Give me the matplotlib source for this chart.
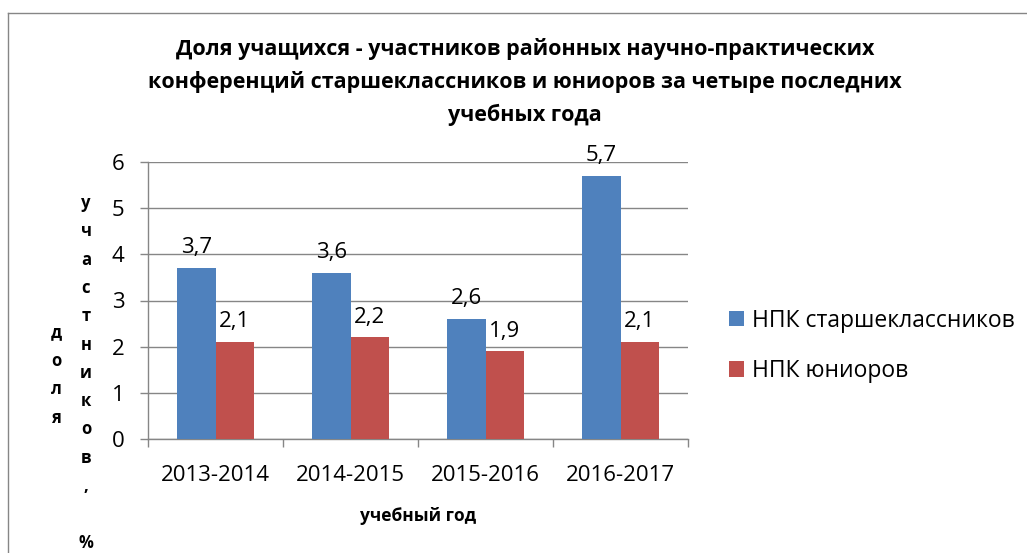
import matplotlib.pyplot as plt
import numpy as np
from matplotlib.lines import Line2D

years = ['2013-2014', '2014-2015', '2015-2016', '2016-2017']
seniors = [3.7, 3.6, 2.6, 5.7]
juniors = [2.1, 2.2, 1.9, 2.1]
series_names = ['НПК старшеклассников', 'НПК юниоров']
title = ('Доля учащихся - участников районных научно-практических\n'
         'конференций старшеклассников и юниоров за четыре последних\n'
         'учебных года')
xlabel = 'учебный год'
ylabel_1 = 'доля'
ylabel_2 = 'участников, %'

BLUE = '#4F81BD'
RED = '#C0504D'
GRAY = '#868686'

plt.rcParams['font.family'] = ['Open Sans', 'DejaVu Sans']

W, H = 1027, 553
fig = plt.figure(figsize=(W / 100, H / 100), dpi=100)
ax = fig.add_axes([148 / W, 1 - 439 / H, 540 / W, 277 / H])

# outer chart frame: only left and top edges are inside the picture
top = 1 - 12.5 / H
left = 7.5 / W
fig.add_artist(Line2D([left, left], [0, top], transform=fig.transFigure,
                      color=GRAY, linewidth=1.0))
fig.add_artist(Line2D([left, 1], [top, top], transform=fig.transFigure,
                      color=GRAY, linewidth=1.0))

x = np.arange(len(years))
bw = 0.282
b1 = ax.bar(x - bw / 2, seniors, bw, color=BLUE, label=series_names[0], zorder=3)
b2 = ax.bar(x + bw / 2, juniors, bw, color=RED, label=series_names[1], zorder=3)

fmt = lambda vals: [f'{v:.1f}'.replace('.', ',') for v in vals]
ax.bar_label(b1, labels=fmt(seniors), padding=7, fontsize=16)
ax.bar_label(b2, labels=fmt(juniors), padding=7, fontsize=16)

ax.set_xlim(-0.5, len(years) - 0.5)
ax.set_ylim(0, 6)
ax.set_yticks(range(0, 7))
ax.set_xticks(x)
ax.set_xticklabels(years, fontsize=16)
ax.set_xticks(np.arange(-0.5, len(years)), minor=True)
ax.tick_params(axis='x', which='major', length=0, pad=19)
ax.tick_params(axis='x', which='minor', length=6, color=GRAY, width=1.0)
ax.tick_params(axis='y', length=6, color=GRAY, width=1.0, labelsize=16, pad=11)

ax.grid(axis='y', color=GRAY, linewidth=1.0, zorder=0)
ax.set_axisbelow(True)
for s in ['top', 'right']:
    ax.spines[s].set_visible(False)
for s in ['left', 'bottom']:
    ax.spines[s].set_color(GRAY)
    ax.spines[s].set_linewidth(1.0)

fig.text(525 / W, 1 - 82 / H, title, ha='center', va='center',
         fontsize=15.5, fontweight='bold', linespacing=1.62)

fig.text(418 / W, 1 - 516 / H, xlabel, ha='center', va='center',
         fontsize=12.5, fontweight='bold')

# vertical stacked axis title, one letter under another
for i, ch in enumerate(ylabel_1):
    fig.text(56 / W, 1 - (332 + i * 28.7) / H, ch, ha='center', va='center',
             fontsize=12, fontweight='bold')
for i, ch in enumerate(ylabel_2):
    fig.text(86 / W, 1 - (203 + i * 28.3) / H, ch, ha='center', va='center',
             fontsize=12, fontweight='bold')

fig.legend(loc='center left', bbox_to_anchor=(729 / W, 1 - 346 / H),
           frameon=False, fontsize=16.5, handlelength=0.65, handleheight=0.65,
           handletextpad=0.35, labelspacing=1.15, borderpad=0, borderaxespad=0)

fig.savefig('out.png', dpi=100)
